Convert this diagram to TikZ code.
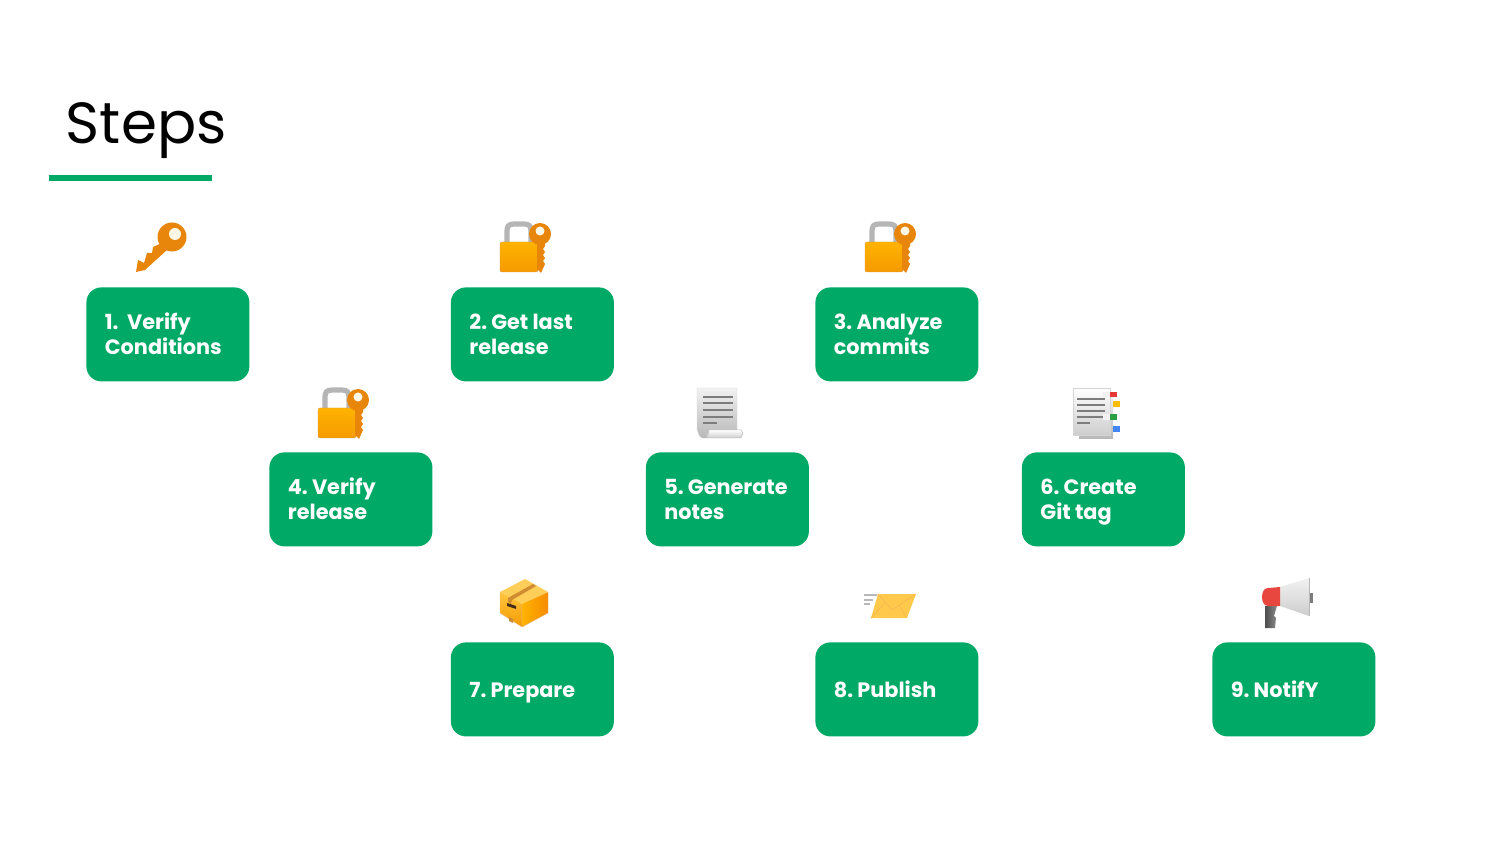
\documentclass[tikz,border=0pt]{standalone}
\usepackage{fontspec}
\setmainfont{Poppins}
\definecolor{brand}{HTML}{00A965}
\definecolor{keyor}{HTML}{E8860C}
\definecolor{keydk}{HTML}{C96F0A}
\definecolor{lockt}{HTML}{FFB300}
\definecolor{lockb}{HTML}{F59A00}
\definecolor{shack}{HTML}{B5B5B5}
\definecolor{txtln}{HTML}{7D7D7D}
\definecolor{papr}{HTML}{F2F2F2}
\definecolor{paprd}{HTML}{B8B8B8}
\definecolor{tagr}{HTML}{E53935}
\definecolor{tagy}{HTML}{FBBC05}
\definecolor{tagg}{HTML}{2E9E45}
\definecolor{tagb}{HTML}{4285F4}
\definecolor{horn}{HTML}{E8473F}
\newcommand{\stepline}[1]{\strut\frenchspacing\spaceskip=0.2em #1}
\newcommand{\steptext}[1]{\hspace*{9.25pt}\raisebox{-3.9pt}[23.5pt][23.5pt]{\parbox[c][47pt][c]{70pt}{\raggedright #1}}}
\tikzset{
  x=0.5pt,y=-0.5pt,
  stepbox/.style={fill=brand,rounded corners=7.5pt,minimum width=81.5pt,minimum height=47pt,
    text width=81.5pt,inner sep=0pt,align=left,text=white,anchor=north west,
    font=\fontsize{10.4}{12.5}\selectfont\bfseries},
  textline/.style={draw=txtln,line width=0.75pt},
  lockicon/.pic={
    \draw[shack,line width=2.6pt] (7,21)--(7,9) .. controls (7,4) and (9,2) .. (14,2) -- (24,2) .. controls (29,2) and (31,4) .. (31,9) -- (31,21);
    \shade[top color=lockt,bottom color=lockb,draw=keydk!70,line width=0.2pt,rounded corners=1pt] (0,20) rectangle (38,50);
    \fill[keyor] (37,18)--(45,18)--(45,24)--(43,27)--(45,30)--(43,33)--(45,36)--(43,39)--(45,42)--(41,51)--(37,47)--cycle;
    \fill[keyor] (40,12) circle[radius=11];
    \fill[white!90!lockt] (40,9) circle[radius=4.5];
  }
}
\begin{document}
\begin{tikzpicture}
\useasboundingbox (0,0) rectangle (1500,844);
\node[anchor=base west,inner sep=0pt,font=\fontsize{29}{35}\selectfont] (title) at (65.5,143.5) {Steps};
\fill[brand] (49,175.5) rectangle (212,181.5);
\node[stepbox] (s1) at (86,287) {\steptext{\stepline{1.\hspace{4.3pt}Verify}\\\stepline{Conditions}}};
\node[stepbox] (s2) at (450.5,287) {\steptext{\stepline{2. Get last}\\\stepline{release}}};
\node[stepbox] (s3) at (815,287) {\steptext{\stepline{3. Analyze}\\\stepline{commits}}};
\node[stepbox] (s4) at (269,452) {\steptext{\stepline{4. Verify}\\\stepline{release}}};
\node[stepbox] (s5) at (645.5,452) {\steptext{\stepline{5. Generate}\\\stepline{notes}}};
\node[stepbox] (s6) at (1021.5,452) {\steptext{\stepline{6. Create}\\\stepline{Git tag}}};
\node[stepbox] (s7) at (450.5,642) {\steptext{\stepline{7. Prepare}}};
\node[stepbox] (s8) at (815,642) {\steptext{\stepline{8. Publish}}};
\node[stepbox] (s9) at (1212,642) {\steptext{\stepline{9. NotifY}}};
% key
\fill[keyor] (136,272)--(138,260)--(144,263)--(147,253)--(152,253)--(153,247)--(162,243)--(167,250)--(145,270)--cycle;
\fill[keyor] (172,237) circle[radius=14.5];
\fill[white!90!lockt] (175,234) circle[radius=6];
% locks
\pic at (500,222) {lockicon};
\pic at (865,222) {lockicon};
\pic at (318,388) {lockicon};
% scroll
\shade[top color=papr,bottom color=paprd,draw=paprd!60,line width=0.2pt] (697,388)--(737,388)--(737,431)--(709,431)--(706,438)--(702,438) to[out=180,in=90] (697,430)--cycle;
\shade[top color=white,bottom color=paprd!70,draw=paprd,line width=0.25pt] (709,430)--(741,430)--(743,433)--(741,438)--(704,438) to[out=0,in=-90] (709,430);
\foreach \yy in {397,403,410,417}{\draw[textline] (703,\yy)--(733,\yy);}
\draw[textline] (703,423)--(717,423);
% tagged document
\shade[top color=papr,bottom color=paprd] (1079,394) rectangle (1113,439);
\shade[top color=white,bottom color=paprd!70,draw=paprd!60,line width=0.2pt] (1073,388) rectangle (1110,435);
\foreach \yy in {399,405,411,417}{\draw[textline] (1077,\yy)--(1105,\yy);}
\draw[textline] (1077,423)--(1090,423);
\fill[papr] (1103,392) rectangle (1110,397);
\fill[papr] (1103,414) rectangle (1110,420);
\fill[tagr] (1110,392) rectangle (1117,397);
\fill[tagy] (1113,401) rectangle (1120,407);
\fill[tagg] (1110,414) rectangle (1117,420);
\fill[tagb] (1113,426) rectangle (1120,432);
% package
\shade[top color=lockt!75!white,bottom color=lockb,draw=keydk!50,line width=0.2pt] (500,592)--(522,603)--(522,627)--(500,613)--cycle;
\shade[left color=lockt,right color=lockb!90!red,draw=keydk!50,line width=0.2pt] (548,592)--(522,603)--(522,627)--(548,613)--cycle;
\fill[lockt!65!white] (525,579)--(548,592)--(522,604)--(500,592)--cycle;
\fill[brown!75!lockt] (508,598)--(533,584)--(536,586)--(512,600)--(511,604)--(508,602)--cycle;
\fill[black!65!brown] (507,603)--(516,606)--(516,609)--(507,606)--cycle;
\fill[brown!80!lockt] (509,617)--(513,619)--(513,623)--(509,621)--cycle;
% envelope
\fill[lockt!70!white] (878,594)--(916,594)--(907,618)--(871,618)--cycle;
\draw[lockb!70!white,line width=0.4pt] (878,594)--(892,610)--(916,594) (871,618)--(885,603) (907,618)--(899,605);
\draw[paprd,line width=1pt] (864,595)--(877,595) (864,600)--(873,600) (864,604)--(870,604);
% megaphone
\shade[left color=black!70,right color=black!45] (1265,606)--(1277,606)--(1274,616)--(1276,618)--(1275,628)--(1265,628)--cycle;
\fill[txtln] (1309,593) rectangle (1313,603);
\shade[top color=papr,bottom color=paprd!70] (1280,587)--(1309,578)--(1309,616)--(1280,606)--cycle;
\fill[horn] (1280,587)--(1280,606)--(1268,606) to[out=180,in=-90] (1262,597) to[out=90,in=180] (1268,588)--cycle;
\draw[paprd,line width=0.5pt] (1309,578)--(1309,616);
\end{tikzpicture}
\end{document}
